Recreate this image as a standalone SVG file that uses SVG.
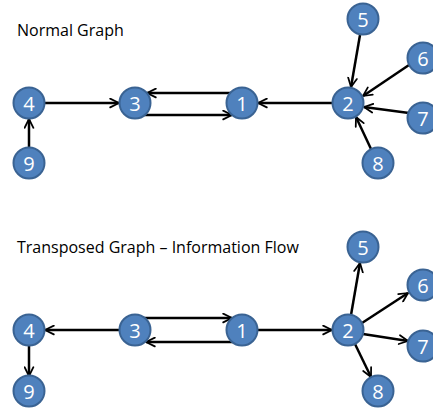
<svg xmlns="http://www.w3.org/2000/svg" width="433" height="408" viewBox="0 0 433 408">
<defs>
<style>
.n circle{fill:#4F81BD;stroke:#3A6393;stroke-width:2}
.n text{fill:#fff;font-family:"Open Sans","Liberation Sans",sans-serif;font-size:20px;text-anchor:middle;dominant-baseline:central}
.t{fill:#000;font-family:"Open Sans","Liberation Sans",sans-serif;font-size:16px}
.e line{stroke:#000;stroke-width:2.5;marker-end:url(#ah)}
</style>
<marker id="ah" viewBox="0 0 10 10" refX="9" refY="5" markerWidth="4.4" markerHeight="4.4" orient="auto" markerUnits="strokeWidth">
<path d="M1,1 L9,5 L1,9" fill="none" stroke="#000" stroke-width="1.6" stroke-linecap="round" stroke-linejoin="round"/>
</marker>
</defs>
<text class="t" x="17" y="36">Normal Graph</text>
<text class="t" x="17" y="253">Transposed Graph – Information Flow</text>
<g class="e" id="connectors">
<line x1="44" y1="103" x2="119" y2="103"/>
<line x1="29" y1="148" x2="29" y2="119"/>
<line x1="231" y1="93" x2="147" y2="93"/>
<line x1="144" y1="115" x2="232" y2="115"/>
<line x1="333" y1="103" x2="258" y2="103"/>
<line x1="360" y1="35" x2="351" y2="87"/>
<line x1="409" y1="65" x2="363" y2="96"/>
<line x1="409" y1="113" x2="364" y2="107"/>
<line x1="371" y1="149" x2="356" y2="117"/>
<line x1="120" y1="330" x2="45" y2="330"/>
<line x1="29" y1="345" x2="29" y2="376"/>
<line x1="144" y1="318" x2="232" y2="318"/>
<line x1="233" y1="342" x2="146" y2="342"/>
<line x1="257" y1="330" x2="332" y2="330"/>
<line x1="351" y1="315" x2="360" y2="263"/>
<line x1="362" y1="323" x2="408" y2="293"/>
<line x1="363" y1="334" x2="408" y2="341"/>
<line x1="355" y1="344" x2="371" y2="377"/>
</g>
<g class="n" id="t4"><circle cx="29" cy="103" r="15.5"/><text x="29" y="103">4</text></g>
<g class="n" id="t9"><circle cx="29" cy="163" r="15.5"/><text x="29" y="163">9</text></g>
<g class="n" id="t3"><circle cx="135" cy="103" r="15.5"/><text x="135" y="103">3</text></g>
<g class="n" id="t1"><circle cx="242" cy="103" r="15.5"/><text x="242" y="103">1</text></g>
<g class="n" id="t2"><circle cx="348" cy="103" r="15.5"/><text x="348" y="103">2</text></g>
<g class="n" id="t5"><circle cx="363" cy="19" r="15.5"/><text x="363" y="19">5</text></g>
<g class="n" id="t6"><circle cx="423" cy="58" r="15.5"/><text x="423" y="58">6</text></g>
<g class="n" id="t7"><circle cx="423" cy="118" r="15.5"/><text x="423" y="118">7</text></g>
<g class="n" id="t8"><circle cx="378" cy="163" r="15.5"/><text x="378" y="163">8</text></g>
<g class="n" id="b4"><circle cx="29" cy="330" r="15.5"/><text x="29" y="330">4</text></g>
<g class="n" id="b9"><circle cx="29" cy="391" r="15.5"/><text x="29" y="391">9</text></g>
<g class="n" id="b3"><circle cx="135" cy="330" r="15.5"/><text x="135" y="330">3</text></g>
<g class="n" id="b1"><circle cx="242" cy="330" r="15.5"/><text x="242" y="330">1</text></g>
<g class="n" id="b2"><circle cx="348" cy="330" r="15.5"/><text x="348" y="330">2</text></g>
<g class="n" id="b5"><circle cx="363" cy="247" r="15.5"/><text x="363" y="247">5</text></g>
<g class="n" id="b6"><circle cx="423" cy="285" r="15.5"/><text x="423" y="285">6</text></g>
<g class="n" id="b7"><circle cx="423" cy="346" r="15.5"/><text x="423" y="346">7</text></g>
<g class="n" id="b8"><circle cx="378" cy="391" r="15.5"/><text x="378" y="391">8</text></g>
</svg>
